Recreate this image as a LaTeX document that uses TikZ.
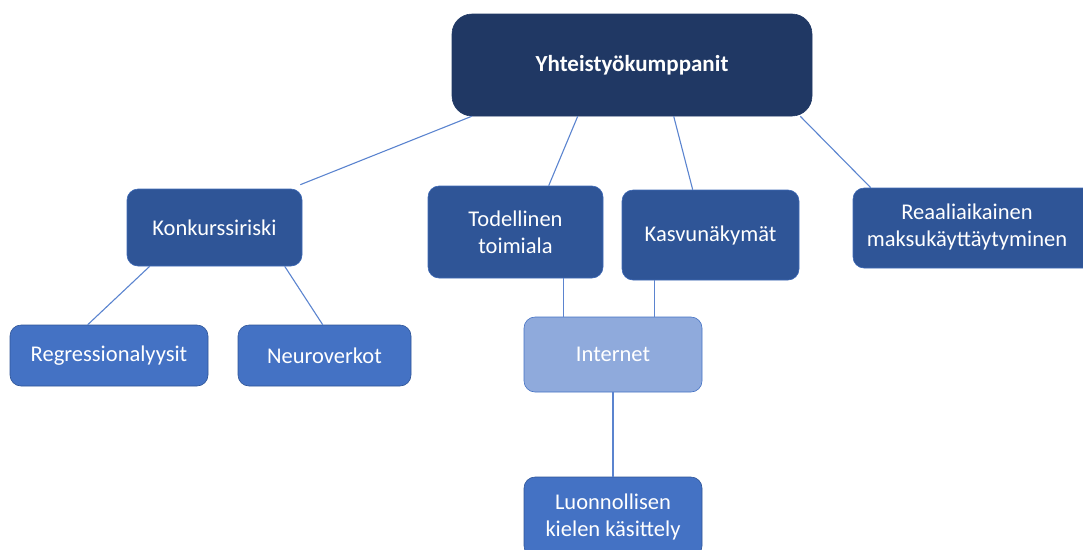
\documentclass[tikz,border=0pt]{standalone}
\usepackage{fontspec}
\setmainfont{Carlito}
\definecolor{navy}{HTML}{203864}
\definecolor{midblue}{HTML}{2F5597}
\definecolor{accblue}{HTML}{4472C4}
\definecolor{lightblue}{HTML}{8FAADC}
\definecolor{linkblue}{HTML}{5B84CF}
\tikzset{
  box/.style={rectangle, rounded corners=11pt, text=white, align=center,
    font=\fontsize{22.5}{27}\selectfont, inner sep=0pt, line width=0.6pt},
  topbox/.style={box, fill=navy, draw=navy, rounded corners=20pt,
    font=\fontsize{23}{27}\selectfont\bfseries},
  lvtwo/.style={box, fill=midblue, draw=accblue!70!midblue},
  lvthree/.style={box, fill=accblue, draw=midblue},
  netbox/.style={box, fill=lightblue, draw=accblue},
  link/.style={draw=linkblue, line width=1.1pt}
}
\begin{document}
\begin{tikzpicture}[x=1pt,y=-1pt]
\useasboundingbox (0,0) rectangle (1083,549);
\node[topbox, minimum width=360pt, minimum height=102pt] (top) at (632,65) {Yhteistyökumppanit};
\node[lvtwo, minimum width=175pt, minimum height=77pt] (konk) at (214.5,227.5) {Konkurssiriski};
\node[lvtwo, minimum width=175pt, minimum height=92pt] (tod) at (515.5,232) {Todellinen\\toimiala};
\node[lvtwo, minimum width=177pt, minimum height=90pt] (kasvu) at (710.5,235) {Kasvunäkymät};
\node[lvtwo, minimum width=242pt, minimum height=80pt] (reali) at (974,228) {\begin{tabular}{@{}c@{\hspace{14pt}}}Reaaliaikainen\\maksukäyttäytyminen\end{tabular}};
\node[lvthree, minimum width=198pt, minimum height=61pt] (regr) at (109,355.5) {Regressionalyysit};
\node[lvthree, minimum width=173pt, minimum height=61pt] (neuro) at (324.5,355.5) {Neuroverkot};
\node[netbox, minimum width=178pt, minimum height=75pt] (net) at (613,354.5) {Internet};
\node[lvthree, minimum width=178pt, minimum height=80pt] (luon) at (613,517) {Luonnollisen\\kielen käsittely};
\draw[link] ([xshift=20pt]top.south west) -- ([xshift=-2pt,yshift=4pt]konk.north east);
\draw[link] ([xshift=126pt]top.south west) -- ([xshift=121pt]tod.north west);
\draw[link] ([xshift=222pt]top.south west) -- ([xshift=71pt]kasvu.north west);
\draw[link] ([xshift=-12pt]top.south east) -- ([xshift=18pt]reali.north west);
\draw[link] ([xshift=23pt]konk.south west) -- ([xshift=78pt]regr.north west);
\draw[link] ([xshift=158pt]konk.south west) -- ([xshift=85pt]neuro.north west);
\draw[link] ([xshift=136pt]tod.south west) -- ([xshift=40pt]net.north west);
\draw[link] ([xshift=33pt]kasvu.south west) -- ([xshift=131pt]net.north west);
\draw[link] (net.south) -- (luon.north);
\end{tikzpicture}
\end{document}
